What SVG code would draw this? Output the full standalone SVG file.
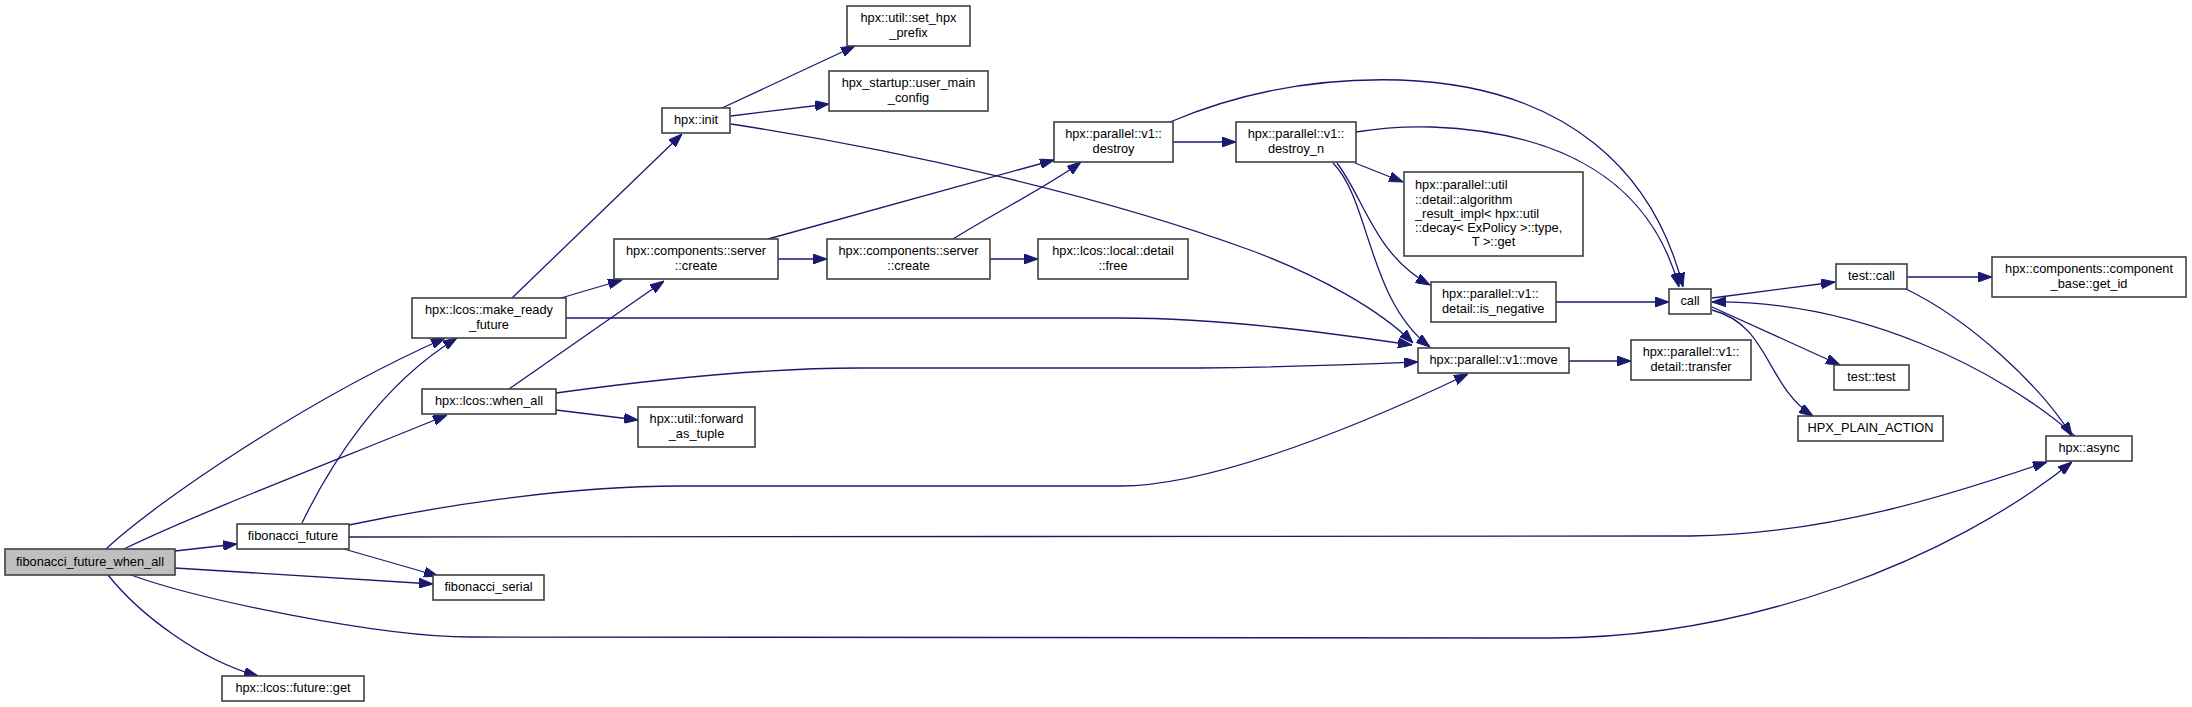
<svg xmlns="http://www.w3.org/2000/svg" width="2192" height="707" viewBox="0 0 2192 707">
<style>
.node rect{fill:#ffffff;stroke:#404040;stroke-width:1.6}
.node.root rect{fill:#bfbfbf}
.node text{font-family:"Liberation Sans",Arial,sans-serif;font-size:12.8px;fill:#000;text-anchor:middle}
.node text.l{text-anchor:start}
.edges path{fill:none;stroke:#191970;stroke-width:1.3;marker-end:url(#arr)}
</style>
<defs>
<marker id="arr" markerUnits="userSpaceOnUse" markerWidth="14" markerHeight="10" viewBox="0 0 14 10" refX="14" refY="5" orient="auto">
<path d="M0,0 L14,5 L0,10 z" fill="#191970" stroke="#191970" stroke-width="1"/>
</marker>
</defs>
<rect width="2192" height="707" fill="#ffffff"/>
<g class="edges" id="connectors">
<path d="M106,549 C155,503 305,400 445,338"/>
<path d="M302,523 C330,465 380,385 457,338"/>
<path d="M124,549 C200,512 350,455 447,415"/>
<path d="M175,551 L237,544"/>
<path d="M175,568 L433,584"/>
<path d="M344,549 L438,576"/>
<path d="M131,575 C200,600 380,637 470,637 L1550,638 C1750,638 1950,560 2072,462"/>
<path d="M108,575 C140,615 200,660 258,676"/>
<path d="M512,298 L682,134"/>
<path d="M561,298 L622,280"/>
<path d="M566,318 L1120,318 C1220,318 1330,333 1412,345"/>
<path d="M509,389 L664,281"/>
<path d="M556,393 C650,380 760,368 860,368 L1200,368 C1300,367 1370,364 1418,362"/>
<path d="M556,410 L638,420"/>
<path d="M349,525 C430,508 560,486 680,486 L1120,486 C1200,486 1330,440 1468,374"/>
<path d="M349,537 L1690,536 C1830,534 1950,495 2047,462"/>
<path d="M722,108 L855,46"/>
<path d="M731,116 L829,104"/>
<path d="M731,124 C900,150 1100,195 1250,250 C1320,276 1380,310 1413,343"/>
<path d="M768,239 L1054,160"/>
<path d="M778,259 L827,259"/>
<path d="M953,239 C1000,210 1050,185 1081,162"/>
<path d="M990,259 L1038,259"/>
<path d="M1173,142 L1236,142"/>
<path d="M1170,122 C1250,88 1330,78 1400,80 C1570,86 1655,175 1683,287"/>
<path d="M1356,132 C1380,128 1400,126 1432,127 C1560,132 1650,180 1679,287"/>
<path d="M1355,163 L1403,182"/>
<path d="M1337,163 C1365,200 1375,255 1430,285"/>
<path d="M1333,163 C1370,200 1368,300 1430,347"/>
<path d="M1556,302 L1669,302"/>
<path d="M1569,361 L1631,361"/>
<path d="M1712,298 L1835,282"/>
<path d="M1712,307 L1840,365"/>
<path d="M1712,310 C1770,325 1765,385 1813,416"/>
<path d="M2075,436 C2000,370 1860,300 1712,302"/>
<path d="M1907,277 L1992,277"/>
<path d="M1906,289 C1970,320 2040,385 2072,436"/>
</g>
<g class="node root" id="fibonacci_future_when_all"><rect x="5" y="549" width="170" height="26"/><text x="90" y="566">fibonacci_future_when_all</text></g>
<g class="node" id="make_ready_future"><rect x="412" y="298" width="154" height="40"/><text x="489" y="314.4">hpx::lcos::make_ready</text><text x="489" y="328.6">_future</text></g>
<g class="node" id="when_all"><rect x="422" y="389" width="134" height="25"/><text x="489" y="405">hpx::lcos::when_all</text></g>
<g class="node" id="fibonacci_future"><rect x="237" y="524" width="112" height="25"/><text x="293" y="540">fibonacci_future</text></g>
<g class="node" id="fibonacci_serial"><rect x="433" y="575" width="111" height="25"/><text x="488.5" y="591">fibonacci_serial</text></g>
<g class="node" id="future_get"><rect x="222" y="676" width="142" height="25"/><text x="293" y="692">hpx::lcos::future::get</text></g>
<g class="node" id="hpx_init"><rect x="662" y="108" width="68" height="25"/><text x="696" y="124">hpx::init</text></g>
<g class="node" id="server_create_1"><rect x="614" y="239" width="164" height="40"/><text x="696" y="255.4">hpx::components::server</text><text x="696" y="269.6">::create</text></g>
<g class="node" id="forward_as_tuple"><rect x="638" y="407" width="117" height="40"/><text x="696.5" y="423.4">hpx::util::forward</text><text x="696.5" y="437.6">_as_tuple</text></g>
<g class="node" id="set_hpx_prefix"><rect x="847" y="6" width="123" height="40"/><text x="908.5" y="22.4">hpx::util::set_hpx</text><text x="908.5" y="36.6">_prefix</text></g>
<g class="node" id="user_main_config"><rect x="829" y="71" width="159" height="40"/><text x="908.5" y="87.4">hpx_startup::user_main</text><text x="908.5" y="101.6">_config</text></g>
<g class="node" id="server_create_2"><rect x="827" y="239" width="163" height="40"/><text x="908.5" y="255.4">hpx::components::server</text><text x="908.5" y="269.6">::create</text></g>
<g class="node" id="detail_free"><rect x="1038" y="239" width="150" height="40"/><text x="1113" y="255.4">hpx::lcos::local::detail</text><text x="1113" y="269.6">::free</text></g>
<g class="node" id="destroy"><rect x="1054" y="122" width="119" height="40"/><text x="1113.5" y="138.4">hpx::parallel::v1::</text><text x="1113.5" y="152.6">destroy</text></g>
<g class="node" id="destroy_n"><rect x="1236" y="122" width="120" height="40"/><text x="1296" y="138.4">hpx::parallel::v1::</text><text x="1296" y="152.6">destroy_n</text></g>
<g class="node" id="algorithm_result_impl_get"><rect x="1404" y="172" width="179" height="84"/><text class="l" x="1415" y="189.3">hpx::parallel::util</text><text class="l" x="1415" y="203.5">::detail::algorithm</text><text class="l" x="1415" y="217.7">_result_impl&lt; hpx::util</text><text class="l" x="1415" y="231.9">::decay&lt; ExPolicy &gt;::type,</text><text x="1493.5" y="246.1">T &gt;::get</text></g>
<g class="node" id="is_negative"><rect x="1431" y="282" width="125" height="40"/><text class="l" x="1442" y="298.4">hpx::parallel::v1::</text><text class="l" x="1442" y="312.6">detail::is_negative</text></g>
<g class="node" id="parallel_move"><rect x="1418" y="348" width="151" height="25"/><text x="1493.5" y="364">hpx::parallel::v1::move</text></g>
<g class="node" id="detail_transfer"><rect x="1631" y="340" width="120" height="40"/><text x="1691" y="356.4">hpx::parallel::v1::</text><text x="1691" y="370.6">detail::transfer</text></g>
<g class="node" id="call"><rect x="1669" y="289" width="42" height="25"/><text x="1690" y="305">call</text></g>
<g class="node" id="test_call"><rect x="1836" y="264" width="71" height="25"/><text x="1871.5" y="280">test::call</text></g>
<g class="node" id="get_id"><rect x="1992" y="257" width="194" height="40"/><text x="2089" y="273.4">hpx::components::component</text><text x="2089" y="287.6">_base::get_id</text></g>
<g class="node" id="test_test"><rect x="1834" y="365" width="75" height="25"/><text x="1871.5" y="381">test::test</text></g>
<g class="node" id="hpx_plain_action"><rect x="1798" y="416" width="145" height="25"/><text x="1870.5" y="432">HPX_PLAIN_ACTION</text></g>
<g class="node" id="hpx_async"><rect x="2046" y="436" width="86" height="25"/><text x="2089" y="452">hpx::async</text></g>
</svg>
